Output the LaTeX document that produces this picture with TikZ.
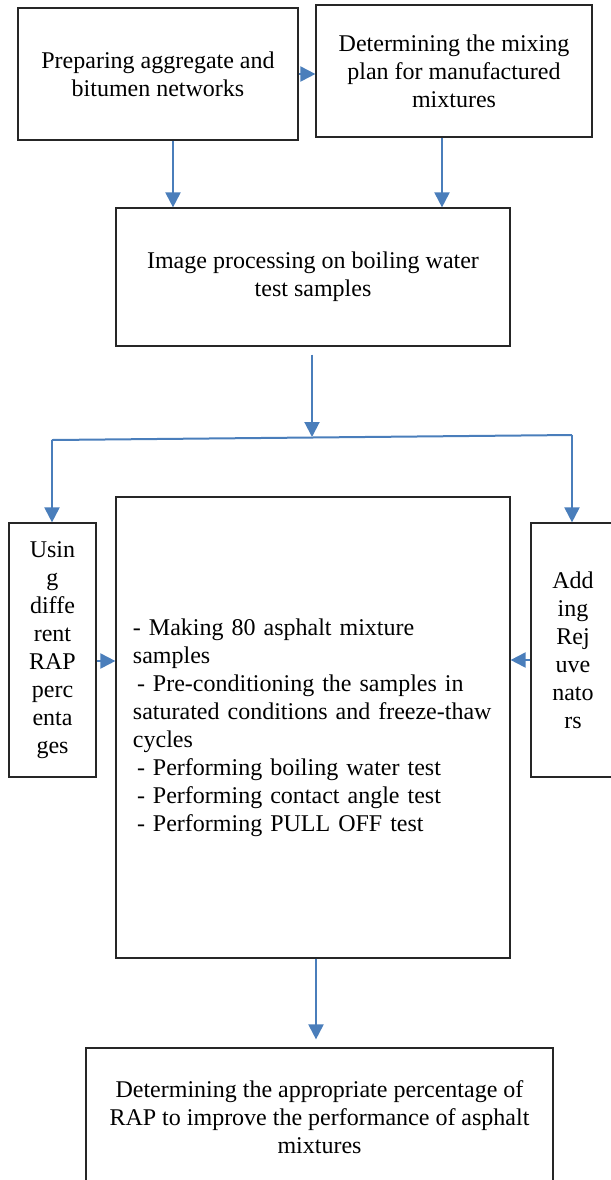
\documentclass[tikz,border=0pt]{standalone}
\usepackage{fontspec}
\setmainfont{Liberation Serif}
\usetikzlibrary{calc,arrows.meta}

\definecolor{flowblue}{RGB}{74,126,187}

\begin{document}
\begin{tikzpicture}[x=0.5pt,y=-0.5pt,
    box/.style={draw=black!85,line width=0.6pt,rectangle,align=center,inner sep=0pt,
        font=\fontsize{12}{14}\selectfont},
    link/.style={draw=flowblue,line width=1pt},
    arr/.style={link,-{Triangle[width=7.5pt,length=7.5pt]}}]
    \useasboundingbox (0,0) rectangle (611,1180);

    \node[box,minimum width=140pt,minimum height=66pt] (prep) at (158,74)
        {Preparing aggregate and\\bitumen networks};
    \node[box,minimum width=138pt,minimum height=66pt] (plan) at (454,71)
        {Determining the mixing\\plan for manufactured\\mixtures};
    \node[box,minimum width=197pt,minimum height=69pt] (image) at (313,277)
        {Image processing on boiling water\\test samples};
    \node[box,minimum width=43.5pt,minimum height=127pt] (rap) at (52.5,650)
        {Usin\\g\\diffe\\rent\\RAP\\perc\\enta\\ges};
    \node[box,minimum width=197pt,minimum height=230.5pt,text width=180pt,align=left] (tests) at (313,727.5)
        {- Making 80 asphalt mixture\\
         samples\\
         \hspace*{2pt}- Pre-conditioning the samples in\\
         saturated conditions and freeze-thaw\\
         cycles\\
         \hspace*{2pt}- Performing boiling water test\\
         \hspace*{2pt}- Performing contact angle test\\
         \hspace*{2pt}- Performing PULL OFF test};
    \node[box,minimum width=42pt,minimum height=127pt] (rejuv) at (573,650)
        {Add\\ing\\Rej\\uve\\nato\\rs};
    \node[box,minimum width=233.5pt,minimum height=69pt] (result) at (319.5,1117)
        {Determining the appropriate percentage of\\RAP to improve the performance of asphalt\\mixtures};

    \coordinate (split) at (312,437);
    \coordinate (lsplit) at (52,440);
    \coordinate (rsplit) at (572,435);

    \draw[arr] (prep.east) -- (prep.east -| plan.west);
    \draw[arr] ([xshift=7.5pt]prep.south) -- ([xshift=7.5pt]prep.south |- image.north);
    \draw[arr] ([xshift=-6pt]plan.south) -- ([xshift=-6pt]plan.south |- image.north);
    \draw[arr,shorten <=4pt] (image.south -| split) -- (split);
    \draw[link] (lsplit) -- (rsplit);
    \draw[arr] (lsplit) -- (lsplit |- rap.north);
    \draw[arr] (rsplit) -- (rsplit |- rejuv.north);
    \draw[arr] ([yshift=-5.5pt]rap.east) -- ([yshift=-5.5pt]rap.east -| tests.west);
    \draw[arr] ([yshift=-5pt]rejuv.west) -- ([yshift=-5pt]rejuv.west -| tests.east);
    \draw[arr,shorten >=4pt] ([xshift=1.5pt]tests.south) -- ([xshift=1.5pt]tests.south |- result.north);
\end{tikzpicture}
\end{document}
